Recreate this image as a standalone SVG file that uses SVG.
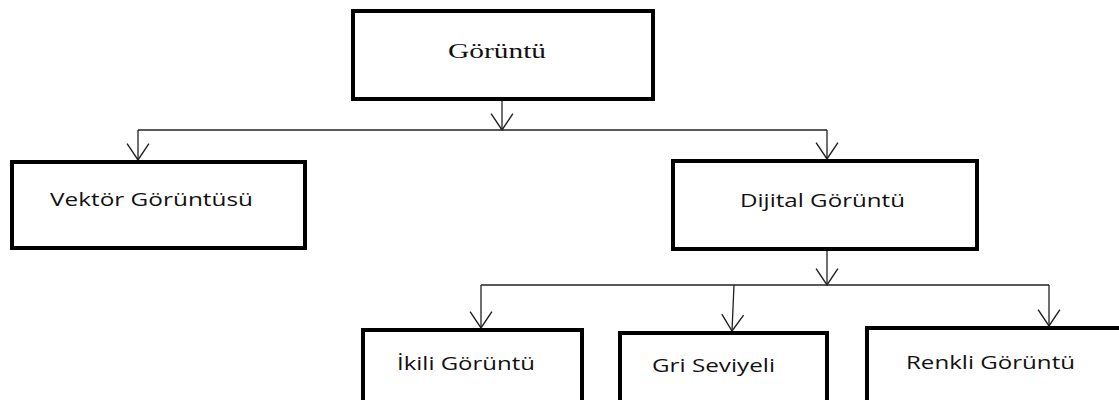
<svg xmlns="http://www.w3.org/2000/svg" width="1119" height="400" viewBox="0 0 1119 400">
<style>
.box{fill:#fff;stroke:#000;stroke-width:4}
.con{fill:none;stroke:#222;stroke-width:1.3}
.serif{font-family:"Liberation Serif","Times New Roman",serif;font-size:22px;fill:#111}
.sans{font-family:"Open Sans","Noto Sans","Liberation Sans",sans-serif;font-size:19px;fill:#111}
</style>
<defs>
<marker id="arr" markerUnits="userSpaceOnUse" markerWidth="20" markerHeight="24" viewBox="-1 -1 18 22" refX="15" refY="10" orient="auto">
<path d="M0,0 L15,10 L0,20" fill="none" stroke="#222" stroke-width="1.3"/>
</marker>
</defs>
<rect width="1119" height="400" fill="#fff"/>
<g id="connectors">
<path class="con" d="M502,99 V130" marker-end="url(#arr)"/>
<path class="con" d="M138,130 H827"/>
<path class="con" d="M138,130 V160" marker-end="url(#arr)"/>
<path class="con" d="M827,130 V159" marker-end="url(#arr)"/>
<path class="con" d="M827,249 V285" marker-end="url(#arr)"/>
<path class="con" d="M481,285 H1049"/>
<path class="con" d="M481,285 V328" marker-end="url(#arr)"/>
<path class="con" d="M734,285 L732,331" marker-end="url(#arr)"/>
<path class="con" d="M1049,285 V326" marker-end="url(#arr)"/>
</g>
<g id="node-goruntu">
<rect class="box" x="353" y="11" width="300" height="88"/>
<text class="serif" x="448" y="58" textLength="98" lengthAdjust="spacingAndGlyphs">Görüntü</text>
</g>
<g id="node-vektor">
<rect class="box" x="12" y="162" width="293" height="86"/>
<text class="sans" x="50" y="206" textLength="203" lengthAdjust="spacingAndGlyphs">Vektör Görüntüsü</text>
</g>
<g id="node-dijital">
<rect class="box" x="673" y="161" width="304" height="88"/>
<text class="sans" x="740" y="207" textLength="165" lengthAdjust="spacingAndGlyphs">Dijital Görüntü</text>
</g>
<g id="node-ikili">
<rect class="box" x="363" y="330" width="219" height="100"/>
<text class="sans" x="397" y="370" textLength="138" lengthAdjust="spacingAndGlyphs">İkili Görüntü</text>
</g>
<g id="node-gri">
<rect class="box" x="620" y="333" width="207" height="100"/>
<text class="sans" x="652" y="372" textLength="123" lengthAdjust="spacingAndGlyphs">Gri Seviyeli</text>
</g>
<g id="node-renkli">
<rect class="box" x="867" y="328" width="260" height="100"/>
<text class="sans" x="906" y="369" textLength="169" lengthAdjust="spacingAndGlyphs">Renkli Görüntü</text>
</g>
</svg>
